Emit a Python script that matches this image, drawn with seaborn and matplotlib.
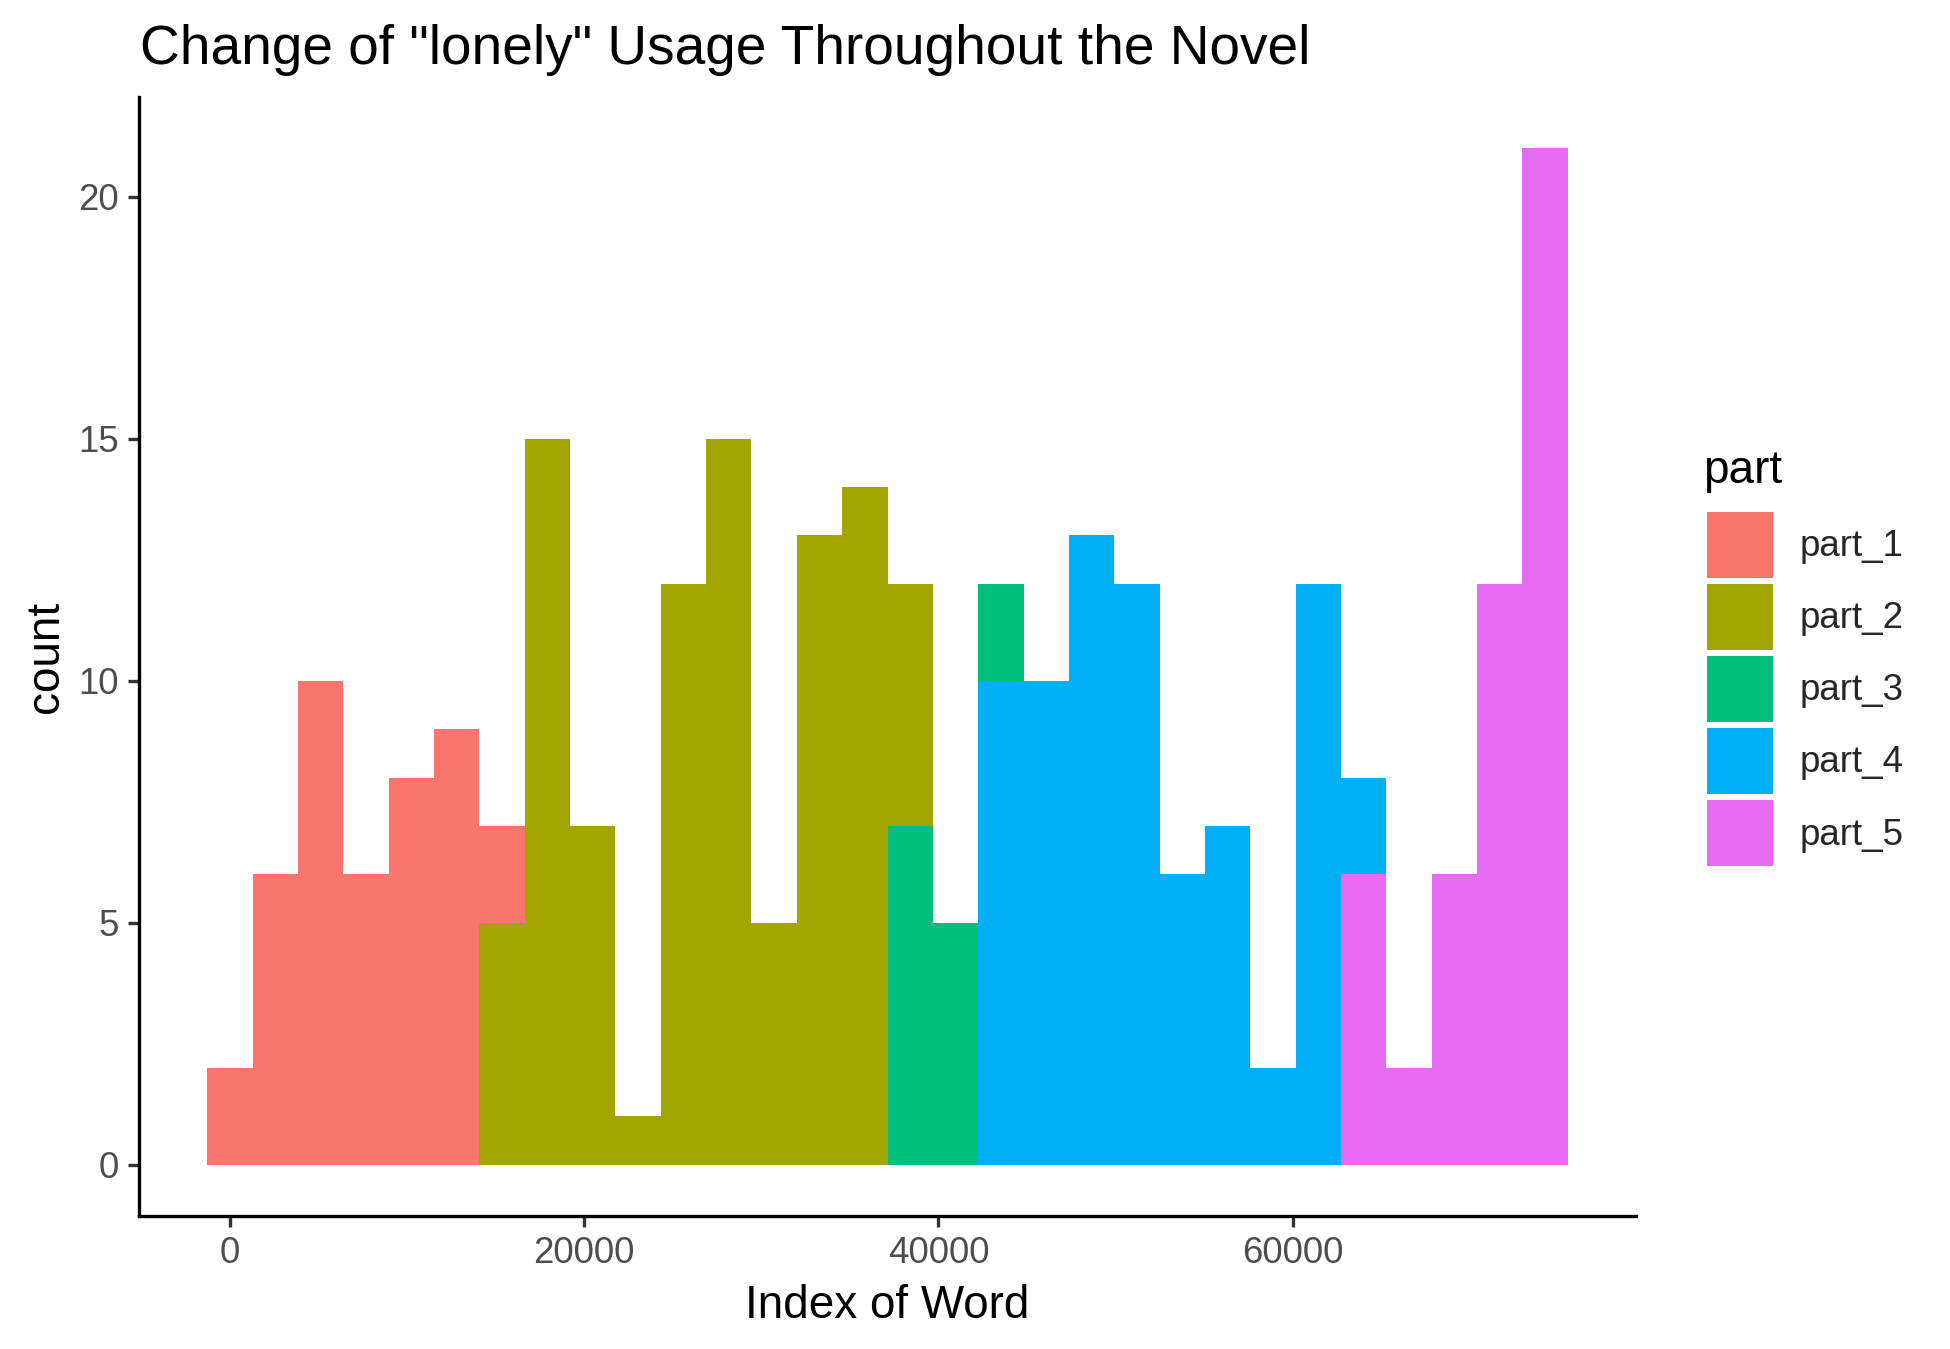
"""
Stacked histogram of "lonely" occurrences across the novel, coloured by part.
Counts are binned per part (30 bins, ggplot-style), stacked with seaborn.
"""

import numpy as np
import pandas as pd
import seaborn as sns
from matplotlib import pyplot as plt
from matplotlib.patches import Patch

# --- data ---
PARTS = ["part_1", "part_2", "part_3", "part_4", "part_5"]
COLORS = ["#F8766D", "#A3A500", "#00BF7D", "#00B0F6", "#E76BF3"]

BIN_START = -1290      # left edge of first bin (word index)
BIN_WIDTH = 2561       # width of each bin
N_BINS = 30

part_1 = [2, 6, 10, 6, 8, 9, 2, 0, 0, 0, 0, 0, 0, 0, 0,
          0, 0, 0, 0, 0, 0, 0, 0, 0, 0, 0, 0, 0, 0, 0]
part_2 = [0, 0, 0, 0, 0, 0, 5, 15, 7, 1, 12, 15, 5, 13, 14,
          5, 0, 0, 0, 0, 0, 0, 0, 0, 0, 0, 0, 0, 0, 0]
part_3 = [0, 0, 0, 0, 0, 0, 0, 0, 0, 0, 0, 0, 0, 0, 0,
          7, 5, 2, 0, 0, 0, 0, 0, 0, 0, 0, 0, 0, 0, 0]
part_4 = [0, 0, 0, 0, 0, 0, 0, 0, 0, 0, 0, 0, 0, 0, 0,
          0, 0, 10, 10, 13, 12, 6, 7, 2, 12, 2, 0, 0, 0, 0]
part_5 = [0, 0, 0, 0, 0, 0, 0, 0, 0, 0, 0, 0, 0, 0, 0,
          0, 0, 0, 0, 0, 0, 0, 0, 0, 0, 6, 2, 6, 12, 21]

X_TICKS = [0, 20000, 40000, 60000]
Y_TICKS = [0, 5, 10, 15, 20]

W, H, DPI = 1950, 1349, 300


def build_frame():
    edges = BIN_START + BIN_WIDTH * np.arange(N_BINS + 1)
    centers = (edges[:-1] + edges[1:]) / 2
    rows = []
    for name, counts in zip(PARTS, [part_1, part_2, part_3, part_4, part_5]):
        for c, n in zip(centers, counts):
            if n > 0:
                rows.append({"index": float(c), "part": name, "n": n})
    return pd.DataFrame(rows), [float(e) for e in edges]


def main() -> None:
    sns.set_style("ticks")
    plt.rcParams["font.family"] = ["Liberation Sans", "DejaVu Sans"]

    df, edges = build_frame()

    fig = plt.figure(figsize=(W / DPI, H / DPI), dpi=DPI)
    left, right = 139.3 / W, 1635.7 / W
    bottom, top = 1 - 1215.7 / H, 1 - 97.3 / H
    ax = fig.add_axes([left, bottom, right - left, top - bottom])

    sns.histplot(
        data=df, x="index", weights="n", hue="part",
        hue_order=PARTS, palette=dict(zip(PARTS, COLORS)),
        bins=edges, multiple="stack", element="bars",
        alpha=1, linewidth=0, legend=False, ax=ax,
    )

    span = edges[-1] - edges[0]
    ax.set_xlim(edges[0] - 0.05 * span, edges[-1] + 0.05 * span)
    ax.set_ylim(-0.05 * 21, 21 * 1.05)
    ax.set_xticks(X_TICKS)
    ax.set_yticks(Y_TICKS)
    ax.set_xticklabels([str(t) for t in X_TICKS])
    ax.set_yticklabels([str(t) for t in Y_TICKS])

    sns.despine(ax=ax)
    for s in ("left", "bottom"):
        ax.spines[s].set_color("black")
        ax.spines[s].set_linewidth(0.8)
    ax.tick_params(length=2.75, width=0.8, color="#333333", pad=2.2,
                   labelsize=8.8, labelcolor="#4D4D4D")

    ax.set_xlabel("Index of Word", fontsize=11, color="black")
    ax.set_ylabel("count", fontsize=11, color="black")
    ax.xaxis.label.set_va("baseline")
    ax.xaxis.set_label_coords(0.5, -102.3 / 1118.4)
    ax.yaxis.label.set_va("center")
    ax.yaxis.set_label_coords((46 - 139.3) / 1496.4, 0.5)

    fig.text(139.5 / W, 1 - 64 / H, 'Change of "lonely" Usage Throughout the Novel',
             fontsize=13.2, color="black", ha="left", va="baseline")

    # legend in ggplot layout (square keys ~15.8pt, small gap between)
    handles = [Patch(facecolor=c, edgecolor="none") for c in COLORS]
    fig.legend(
        handles, PARTS, loc="upper left",
        bbox_to_anchor=(1706.7 / W, 1 - 511.7 / H),
        frameon=False, fontsize=8.8, borderpad=0, borderaxespad=0,
        handlelength=1.8, handleheight=2.39, labelspacing=0.17,
        handletextpad=0.73,
    )
    fig.text(1703 / W, 1 - 483 / H, "part", fontsize=11, color="black",
             ha="left", va="baseline")

    fig.savefig("out.png", dpi=DPI)


if __name__ == "__main__":
    main()
